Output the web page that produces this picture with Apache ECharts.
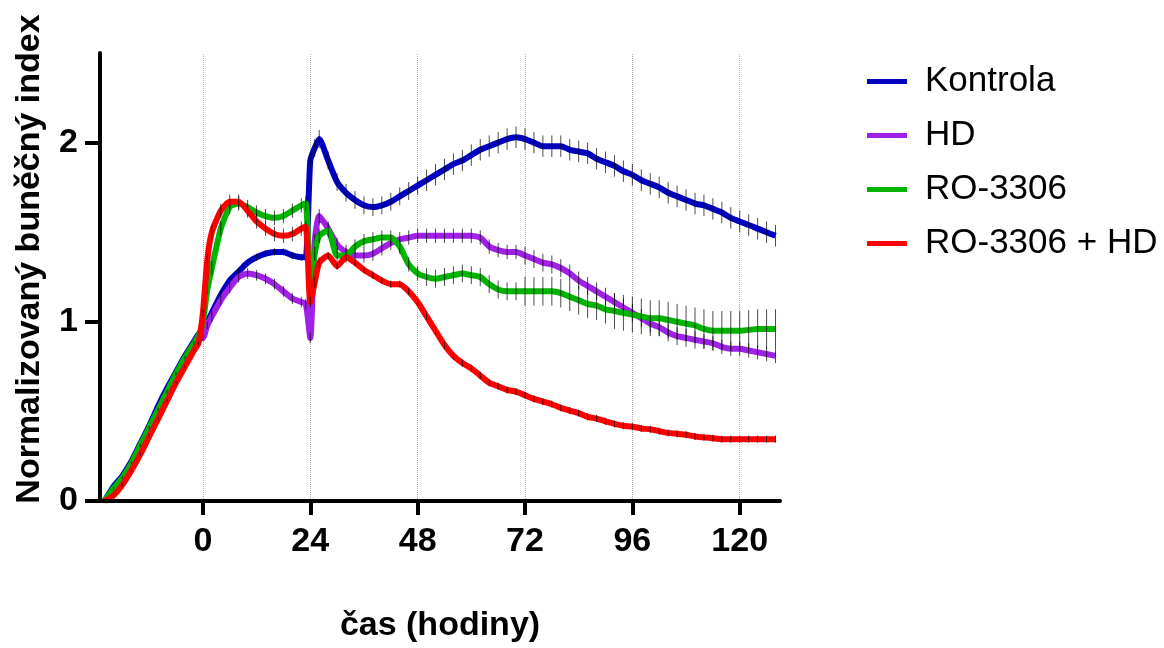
<!DOCTYPE html>
<html>
<head>
<meta charset="utf-8">
<script src="https://cdn.jsdelivr.net/npm/echarts@6/dist/echarts.min.js"></script>
<style>
    html, body { margin: 0; padding: 0; background: #fff; }
    #chart { width: 1164px; height: 648px; }
</style>
</head>
<body>
<div id="chart"></div>
<script>
// time points (hours)
const hours = [
    -22, -20, -18, -16, -14, -12, -10, -8, -6, -4, -2,
    -1, 0, 1,
    2, 4, 6, 8, 10, 12, 14, 16, 18, 20, 22,
    23, 24, 25, 26,
    28, 30, 32, 34, 36, 38, 40, 42, 44, 46, 48,
    50, 52, 54, 56, 58, 60, 62, 64, 66, 68, 70,
    72, 74, 76, 78, 80, 82, 84, 86, 88, 90,
    92, 94, 96, 98, 100, 102, 104, 106, 108, 110,
    112, 114, 116, 118, 120, 122, 124, 126, 128
]

const kontrola = [
    0, 0.08, 0.14, 0.22, 0.32, 0.42, 0.53, 0.63, 0.72, 0.81, 0.89,
    0.93, 0.95, 1.00,
    1.05, 1.15, 1.23, 1.28, 1.33, 1.36, 1.38, 1.39, 1.39, 1.37, 1.36,
    1.36, 1.90, 1.97, 2.02,
    1.90, 1.78, 1.72, 1.68, 1.65, 1.64, 1.65, 1.67, 1.70, 1.73, 1.76,
    1.79, 1.82, 1.85, 1.88, 1.90, 1.93, 1.96, 1.98, 2.00, 2.02, 2.03,
    2.02, 2.00, 1.98, 1.98, 1.98, 1.96, 1.95, 1.94, 1.91, 1.89,
    1.87, 1.84, 1.82, 1.79, 1.77, 1.75, 1.72, 1.70, 1.68, 1.66,
    1.65, 1.63, 1.61, 1.58, 1.56, 1.54, 1.52, 1.50, 1.48
]
const hd = [
    0, 0.06, 0.12, 0.20, 0.29, 0.39, 0.49, 0.59, 0.69, 0.78, 0.87,
    0.92, 0.91, 0.98,
    1.03, 1.12, 1.19, 1.25, 1.27, 1.26, 1.24, 1.21, 1.17, 1.13, 1.11,
    1.10, 0.91, 1.45, 1.59,
    1.52, 1.43, 1.39, 1.37, 1.37, 1.38, 1.41, 1.44, 1.46, 1.47, 1.48,
    1.48, 1.48, 1.48, 1.48, 1.48, 1.48, 1.47, 1.42, 1.40, 1.39, 1.39,
    1.37, 1.35, 1.33, 1.32, 1.30, 1.27, 1.23, 1.20, 1.17, 1.14,
    1.11, 1.08, 1.05, 1.02, 0.99, 0.97, 0.94, 0.92, 0.91, 0.90,
    0.89, 0.88, 0.86, 0.85, 0.85, 0.84, 0.83, 0.82, 0.81
]
const ro3306 = [
    0, 0.07, 0.13, 0.21, 0.31, 0.41, 0.51, 0.61, 0.71, 0.80, 0.88,
    0.92, 1.00, 1.18,
    1.30, 1.52, 1.64, 1.66, 1.64, 1.61, 1.59, 1.58, 1.59, 1.62, 1.65,
    1.66, 1.18, 1.38, 1.48,
    1.51, 1.37, 1.37, 1.42, 1.45, 1.46, 1.47, 1.47, 1.42, 1.32, 1.27,
    1.25, 1.24, 1.25, 1.26, 1.27, 1.26, 1.25, 1.21, 1.18, 1.17, 1.17,
    1.17, 1.17, 1.17, 1.17, 1.16, 1.14, 1.12, 1.10, 1.09, 1.07,
    1.06, 1.05, 1.04, 1.03, 1.02, 1.02, 1.01, 1.00, 0.99, 0.98,
    0.96, 0.95, 0.95, 0.95, 0.95, 0.955, 0.96, 0.96, 0.96
]
const ro3306Hd = [
    0, 0.03, 0.09, 0.17, 0.26, 0.36, 0.46, 0.56, 0.66, 0.75, 0.84,
    0.88, 1.05, 1.35,
    1.50, 1.62, 1.67, 1.67, 1.62, 1.56, 1.52, 1.49, 1.48, 1.49, 1.52,
    1.53, 1.11, 1.22, 1.33,
    1.37, 1.31, 1.36, 1.33, 1.29, 1.26, 1.23, 1.21, 1.21, 1.17, 1.11,
    1.03, 0.95, 0.87, 0.81, 0.77, 0.74, 0.70, 0.66, 0.64, 0.62, 0.61,
    0.59, 0.57, 0.555, 0.54, 0.52, 0.505, 0.49, 0.47, 0.46, 0.445,
    0.43, 0.42, 0.415, 0.405, 0.40, 0.39, 0.38, 0.375, 0.37, 0.36,
    0.355, 0.35, 0.345, 0.345, 0.345, 0.345, 0.345, 0.345, 0.345
]

// SEM (half height of the error bars)
const kontrolaErr = [
    0.01, 0.01, 0.01, 0.01, 0.01, 0.01, 0.01, 0.01, 0.01, 0.01, 0.01,
    0.01, 0.02, 0.02,
    0.02, 0.02, 0.02, 0.02, 0.02, 0.02, 0.02, 0.02, 0.02, 0.02, 0.02,
    0.02, 0.04, 0.05, 0.05,
    0.05, 0.05, 0.05, 0.05, 0.05, 0.05, 0.05, 0.05, 0.05, 0.05, 0.05,
    0.06, 0.06, 0.06, 0.06, 0.06, 0.06, 0.06, 0.06, 0.06, 0.06, 0.06,
    0.06, 0.06, 0.06, 0.06, 0.06, 0.06, 0.06, 0.06, 0.06, 0.06,
    0.06, 0.06, 0.06, 0.06, 0.06, 0.06, 0.06, 0.06, 0.06, 0.06,
    0.06, 0.06, 0.06, 0.06, 0.06, 0.06, 0.06, 0.06, 0.06
]
const hdErr = [
    0.01, 0.01, 0.01, 0.01, 0.01, 0.01, 0.01, 0.01, 0.01, 0.01, 0.01,
    0.01, 0.02, 0.02,
    0.03, 0.03, 0.03, 0.03, 0.03, 0.03, 0.03, 0.03, 0.03, 0.03, 0.03,
    0.03, 0.03, 0.04, 0.04,
    0.04, 0.04, 0.04, 0.04, 0.04, 0.04, 0.04, 0.04, 0.04, 0.04, 0.04,
    0.04, 0.04, 0.04, 0.04, 0.04, 0.04, 0.04, 0.04, 0.04, 0.04, 0.04,
    0.05, 0.05, 0.05, 0.05, 0.05, 0.05, 0.05, 0.05, 0.05, 0.05,
    0.05, 0.05, 0.05, 0.05, 0.05, 0.05, 0.05, 0.05, 0.05, 0.05,
    0.04, 0.04, 0.04, 0.04, 0.04, 0.04, 0.04, 0.04, 0.04
]
const ro3306Err = [
    0.01, 0.01, 0.01, 0.01, 0.01, 0.01, 0.01, 0.01, 0.01, 0.01, 0.01,
    0.01, 0.02, 0.03,
    0.04, 0.04, 0.04, 0.04, 0.04, 0.04, 0.04, 0.04, 0.04, 0.04, 0.04,
    0.04, 0.04, 0.04, 0.04,
    0.04, 0.04, 0.04, 0.04, 0.04, 0.04, 0.04, 0.04, 0.04, 0.04, 0.04,
    0.05, 0.05, 0.05, 0.05, 0.05, 0.05, 0.05, 0.05, 0.05, 0.05, 0.05,
    0.08, 0.08, 0.08, 0.08, 0.08, 0.08, 0.08, 0.08, 0.08, 0.08,
    0.10, 0.10, 0.10, 0.10, 0.10, 0.10, 0.10, 0.10, 0.10, 0.10,
    0.11, 0.11, 0.11, 0.11, 0.11, 0.11, 0.11, 0.11, 0.11
]
const ro3306HdErr = [
    0.01, 0.01, 0.01, 0.01, 0.01, 0.01, 0.01, 0.01, 0.01, 0.01, 0.01,
    0.01, 0.02, 0.03,
    0.04, 0.04, 0.04, 0.04, 0.04, 0.04, 0.04, 0.04, 0.04, 0.04, 0.04,
    0.03, 0.03, 0.03, 0.03,
    0.02, 0.02, 0.02, 0.02, 0.02, 0.02, 0.02, 0.02, 0.02, 0.02, 0.02,
    0.02, 0.02, 0.02, 0.02, 0.02, 0.02, 0.02, 0.02, 0.02, 0.02, 0.02,
    0.02, 0.02, 0.02, 0.02, 0.02, 0.02, 0.02, 0.02, 0.02, 0.02,
    0.02, 0.02, 0.02, 0.02, 0.02, 0.02, 0.02, 0.02, 0.02, 0.02,
    0.02, 0.02, 0.02, 0.02, 0.02, 0.02, 0.02, 0.02, 0.02
]

const xTicks = [0, 24, 48, 72, 96, 120]
const yTicks = [0, 1, 2]

const groups = [
    { name: 'Kontrola', values: kontrola, err: kontrolaErr, color: '#0000c0' },
    { name: 'HD', values: hd, err: hdErr, color: '#a020e8' },
    { name: 'RO-3306', values: ro3306, err: ro3306Err, color: '#00b400' },
    { name: 'RO-3306 + HD', values: ro3306Hd, err: ro3306HdErr, color: '#ff0000' },
]

const FONT = '"Liberation Sans", Arial, sans-serif'

function renderErrorBar(params, api) {
    const x = api.value(0)
    const y = api.value(1)
    const e = api.value(2)
    const top = api.coord([x, y + e])
    const bot = api.coord([x, y - e])
    return {
        type: 'line',
        shape: { x1: top[0], y1: top[1], x2: bot[0], y2: bot[1] },
        style: { stroke: 'rgba(0,0,0,0.7)', lineWidth: 1 },
    }
}

const series = []
groups.forEach((g, k) => {
    const line = {
        name: g.name,
        type: 'line',
        data: hours.map((h, i) => [h, g.values[i]]),
        symbol: 'none',
        smooth: 0.2,
        lineStyle: { color: g.color, width: 6 },
        itemStyle: { color: g.color },
        z: 3 + k * 2,
    }
    if (k === 0) {
        // dotted vertical gridlines at the labelled hours
        line.markLine = {
            silent: true,
            symbol: 'none',
            label: { show: false },
            lineStyle: { type: 'dotted', color: '#b0b0b0', width: 1 },
            data: xTicks.map(v => ({ xAxis: v })),
            z: 1,
        }
    }
    series.push(line)
    series.push({
        name: g.name + ' SEM',
        type: 'custom',
        renderItem: renderErrorBar,
        data: hours.map((h, i) => [h, g.values[i], g.err[i]]),
        encode: { x: 0, y: 1 },
        silent: true,
        z: 4 + k * 2,
    })
})

const chart = echarts.init(document.getElementById('chart'))
chart.setOption({
    animation: false,
    backgroundColor: '#fff',
    grid: { left: 100, right: 384, top: 53, bottom: 145 },
    legend: {
        data: groups.map(g => g.name),
        orient: 'vertical',
        left: 862,
        top: 59,
        icon: 'rect',
        itemWidth: 40,
        itemHeight: 5,
        itemGap: 19,
        textStyle: {
            fontFamily: FONT,
            fontSize: 35,
            color: '#000',
            padding: [0, 0, 0, 13],
        },
    },
    xAxis: {
        type: 'value',
        min: -23,
        max: 129,
        z: 20,
        name: 'čas (hodiny)',
        nameLocation: 'middle',
        nameGap: 108,
        nameTextStyle: { fontFamily: FONT, fontSize: 34, fontWeight: 'bold', color: '#000' },
        axisLine: { onZero: false, lineStyle: { color: '#000', width: 4 } },
        axisTick: { customValues: xTicks, length: 14, lineStyle: { color: '#000', width: 4 } },
        axisLabel: {
            customValues: xTicks,
            margin: 24,
            fontFamily: FONT,
            fontSize: 34,
            fontWeight: 'bold',
            color: '#000',
        },
        splitLine: { show: false },
    },
    yAxis: {
        type: 'value',
        min: 0,
        max: 2.5,
        z: 20,
        name: 'Normalizovaný buněčný index',
        nameLocation: 'middle',
        nameGap: 53,
        nameTextStyle: {
            fontFamily: FONT, fontSize: 34, fontWeight: 'bold', color: '#000',
            padding: [0, 0, 0, 36],
        },
        axisLine: { show: true, onZero: false, lineStyle: { color: '#000', width: 4 } },
        axisTick: { show: true, customValues: yTicks, length: 15, lineStyle: { color: '#000', width: 4 } },
        axisLabel: {
            customValues: yTicks,
            margin: 22,
            fontFamily: FONT,
            fontSize: 34,
            fontWeight: 'bold',
            color: '#000',
        },
        splitLine: { show: false },
    },
    series: series,
})
</script>
</body>
</html>
